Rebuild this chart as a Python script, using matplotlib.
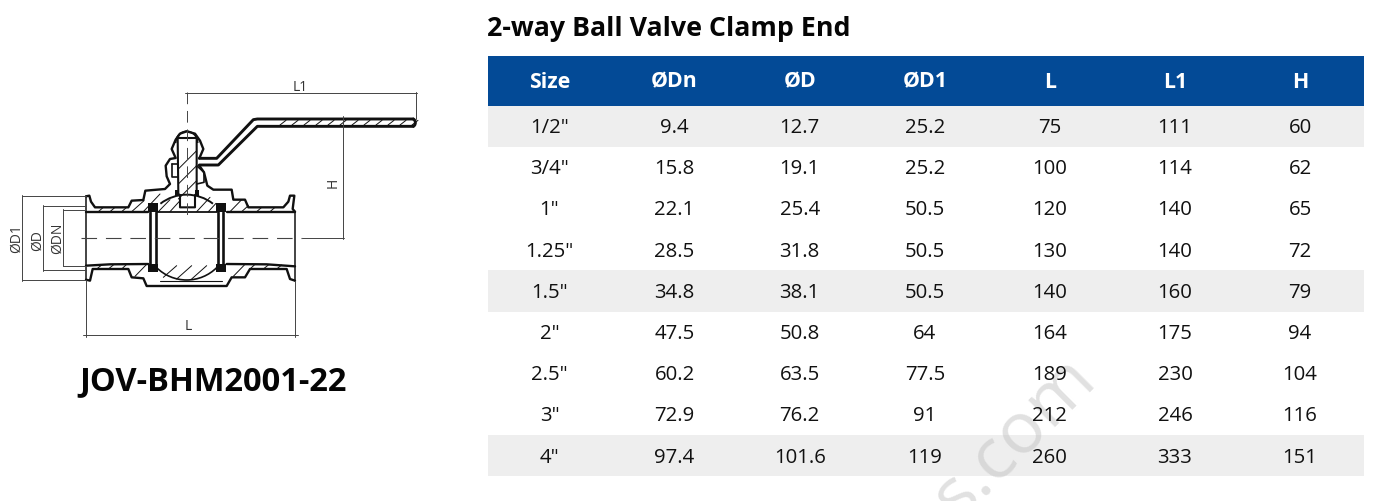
import matplotlib
matplotlib.use("Agg")
import matplotlib.pyplot as plt
from matplotlib.patches import Rectangle, Arc

# ---- table data ----
headers = ["Size", "ØDn", "ØD", "ØD1", "L", "L1", "H"]
sizes = ['1/2"', '3/4"', '1"', '1.25"', '1.5"', '2"', '2.5"', '3"', '4"']
dn = ["9.4", "15.8", "22.1", "28.5", "34.8", "47.5", "60.2", "72.9", "97.4"]
d = ["12.7", "19.1", "25.4", "31.8", "38.1", "50.8", "63.5", "76.2", "101.6"]
d1 = ["25.2", "25.2", "50.5", "50.5", "50.5", "64", "77.5", "91", "119"]
l = ["75", "100", "120", "130", "140", "164", "189", "212", "260"]
l1 = ["111", "114", "140", "140", "160", "175", "230", "246", "333"]
h = ["60", "62", "65", "72", "79", "94", "104", "116", "151"]
shaded_rows = [0, 4, 8]
title = "2-way Ball Valve Clamp End"
model = "JOV-BHM2001-22"

FONT = "Open Sans"
INK = "#111111"
fig = plt.figure(figsize=(13.76, 5.02), dpi=100)
ax = fig.add_axes([0, 0, 1, 1])
ax.set_xlim(0, 1376)
ax.set_ylim(502, 0)
ax.axis("off")

# ---- table ----
X0, X1 = 488, 1364
HEAD_T, HEAD_B = 56.5, 106.5
ROW_H = 41.2
CX0, CW = 549.5, 125.1
ax.add_patch(Rectangle((X0, HEAD_T), X1 - X0, HEAD_B - HEAD_T, fc="#034a96", ec="none", zorder=1))
for r in shaded_rows:
    ax.add_patch(Rectangle((X0, HEAD_B + r * ROW_H), X1 - X0, ROW_H, fc="#eeeeee", ec="none", zorder=1))

ax.text(1028, 452, "s.com", rotation=45, rotation_mode="anchor", ha="center", va="baseline",
        fontsize=52, family=FONT, color="#bdbdbd", alpha=0.45, zorder=2, clip_on=True)

for i, name in enumerate(headers):
    ax.text(CX0 + i * CW, 82, name, ha="center", va="center", color="white",
            fontsize=15.3, fontweight="bold", family=FONT, zorder=3)
columns = [sizes, dn, d, d1, l, l1, h]
for i, col in enumerate(columns):
    for r, val in enumerate(col):
        ax.text(CX0 + i * CW, HEAD_B + (r + 0.5) * ROW_H + 1, val, ha="center", va="center",
                color="#111111", fontsize=14.7, family=FONT, zorder=3)

ax.text(487, 29, title, ha="left", va="center", fontsize=19.3, fontweight="bold", family=FONT, color="#050505")
ax.text(213, 382, model, ha="center", va="center", fontsize=23.5, fontweight="bold", family=FONT, color="#050505")


# ---- valve illustration (drawn in 3x-zoom space of the left panel) ----
def P(pts):
    return [p[0] / 3 for p in pts], [p[1] / 3 + 70 for p in pts]


def line(pts, lw=1.1, color=INK, ls="-"):
    xs, ys = P(pts)
    ax.plot(xs, ys, color=color, lw=lw, ls=ls, solid_capstyle="round", zorder=4)


def block(x, y, w, h_):
    ax.add_patch(Rectangle((x / 3, y / 3 + 70), w / 3, h_ / 3, fc="#111111", ec="none", zorder=5))


def arc(cx, cy, w, h_, a, b, lw=1.3):
    ax.add_patch(Arc((cx / 3, cy / 3 + 70), w / 3, h_ / 3, theta1=a, theta2=b, color=INK, lw=lw, zorder=4))


# body outer, top
line([(258, 382), (268, 380), (273, 398), (285, 415), (385, 415), (395, 395), (430, 393), (436, 365),
      (495, 360), (510, 345), (500, 322), (497, 290), (510, 270), (527, 267), (515, 240), (527, 212),
      (540, 194), (560, 187), (585, 194), (600, 215), (610, 240), (598, 268)], 1.7)
line([(598, 290), (612, 310), (622, 350), (640, 362), (695, 362), (700, 392), (735, 392), (745, 415),
      (850, 415), (865, 398), (870, 380), (883, 380), (878, 420), (885, 428)], 1.7)
# body outer, bottom
line([(258, 632), (270, 635), (278, 600), (385, 600), (395, 625), (430, 628), (440, 651), (680, 651),
      (695, 625), (735, 625), (750, 600), (860, 600), (870, 630), (885, 635)], 1.7)
line([(480, 635), (665, 635)], 0.8)
# bore
line([(258, 428), (445, 428)], 1.7)
line([(470, 428), (650, 428)], 1.3)
line([(680, 428), (885, 428)], 1.7)
line([(258, 590), (330, 586), (445, 585)], 1.7)
line([(680, 585), (800, 586), (885, 592)], 1.7)
line([(258, 382), (258, 632)], 1.1)
line([(885, 428), (885, 635)], 1.1)
# seats
for sx in (445, 648):
    block(sx, 403, 30, 25)
    block(sx, 585, 30, 25)
    line([(sx + 5, 428), (sx + 5, 585)], 1.9)
    line([(sx + 22, 428), (sx + 22, 585)], 1.9)
# ball
arc(560, 505, 256, 256, 45, 135, 1.2)
arc(560, 505, 256, 256, 232, 308, 1.4)
# stem
line([(533, 207), (590, 207)], 1.5)
line([(533, 207), (535, 375), (540, 378), (540, 415), (585, 415), (585, 378), (590, 375), (590, 207)], 1.5)
line([(515, 285), (533, 285)], 1.2)
line([(515, 285), (515, 325), (533, 325)], 1.2)
line([(590, 290), (612, 310), (612, 340), (590, 345)], 1.2)
block(525, 362, 12, 20)
block(585, 362, 12, 20)
arc(560, 222, 66, 70, 180, 360, 1.2)
# handle
line([(598, 268), (650, 268), (760, 152), (772, 150), (1240, 150)], 2.1)
line([(598, 288), (655, 288), (772, 172), (1240, 172)], 2.1)
arc(1238, 161, 16, 22, -90, 90, 2.1)
# section hatching
for hx in range(800, 1230, 36):
    line([(hx + 40, 168), (hx + 58, 154)], 0.7)
for a_, b_ in [((295, 428), (310, 415)), ((330, 428), (345, 415)), ((365, 428), (380, 415)),
               ((395, 428), (432, 395)), ((430, 428), (480, 375)), ((475, 428), (510, 392)),
               ((510, 428), (540, 395)), ((590, 428), (630, 385)), ((625, 428), (648, 403)),
               ((690, 428), (725, 392)), ((725, 428), (745, 410)), ((770, 428), (785, 415)),
               ((810, 428), (825, 415)), ((535, 300), (590, 245)), ((535, 345), (590, 290)),
               ((535, 390), (590, 335)), ((290, 600), (305, 588)), ((325, 600), (340, 588)),
               ((365, 600), (380, 586)), ((405, 622), (440, 586)), ((490, 625), (530, 590)),
               ((530, 630), (575, 590)), ((575, 630), (620, 590)), ((700, 622), (735, 586)),
               ((750, 600), (765, 586)), ((790, 600), (805, 588)), ((830, 600), (845, 588))]:
    line([a_, b_], 0.7)
# centre lines and dimensions
DIM = "#444444"
line([(243, 507), (905, 507)], 0.8, DIM, (0, (14, 8)))
line([(905, 507), (1033, 507)], 0.7, DIM)
line([(560, 70), (560, 445)], 0.7, DIM, (0, (12, 7)))
line([(555, 71), (1250, 71)], 0.7, DIM)
line([(1247, 68), (1247, 150)], 0.7, DIM)
line([(1030, 140), (1030, 510)], 0.7, DIM)
line([(65, 380), (258, 380)], 0.7, DIM)
line([(65, 633), (258, 633)], 0.7, DIM)
line([(65, 378), (65, 636)], 0.7, DIM)
line([(130, 410), (258, 410)], 0.7, DIM)
line([(130, 604), (258, 604)], 0.7, DIM)
line([(130, 407), (130, 607)], 0.7, DIM)
line([(190, 422), (258, 422)], 0.7, DIM)
line([(190, 590), (258, 590)], 0.7, DIM)
line([(190, 420), (190, 592)], 0.7, DIM)
line([(258, 632), (258, 803)], 0.7, DIM)
line([(885, 635), (885, 803)], 0.7, DIM)
line([(250, 798), (895, 798)], 0.7, DIM)

dim_labels = [("L1", 900, 53, 0), ("L", 564, 769, 0), ("H", 1000, 338, 90),
              ("ØD1", 48, 505, 90), ("ØD", 112, 513, 90), ("ØDN", 173, 505, 90)]
for txt, x, y, rot in dim_labels:
    ax.text(x / 3, y / 3 + 70, txt, ha="center", va="center", rotation=rot, fontsize=10,
            family=FONT, color="#333333", zorder=6)

fig.savefig("out.png", dpi=100)
